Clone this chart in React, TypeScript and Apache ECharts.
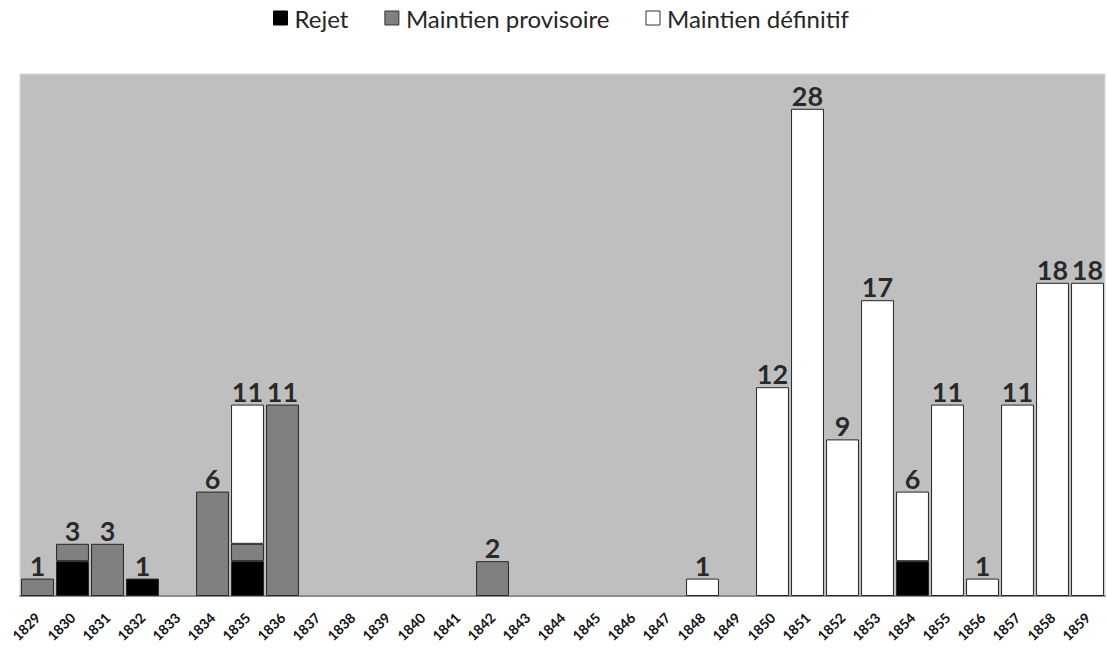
import React, { useEffect, useRef } from "react";
import * as echarts from "echarts";

const years = ["1829","1830","1831","1832","1833","1834","1835","1836","1837","1838","1839","1840","1841","1842","1843","1844","1845","1846","1847","1848","1849","1850","1851","1852","1853","1854","1855","1856","1857","1858","1859"];
const rejet =      [0,2,0,1,0,0,2,0,0,0,0,0,0,0,0,0,0,0,0,0,0,0,0,0,0,2,0,0,0,0,0];
const provisoire = [1,1,3,0,0,6,1,11,0,0,0,0,0,2,0,0,0,0,0,0,0,0,0,0,0,0,0,0,0,0,0];
const definitif =  [0,0,0,0,0,0,8,0,0,0,0,0,0,0,0,0,0,0,0,1,0,12,28,9,17,4,11,1,11,18,18];

const FONT = "Lato, 'Open Sans', sans-serif";

export default function App() {
  const ref = useRef<HTMLDivElement>(null);
  useEffect(() => {
    const chart = echarts.init(ref.current!, null, { renderer: "svg" });
    const totals = years.map((_, i) => rejet[i] + provisoire[i] + definitif[i]);
    const nz = (arr: number[]) => arr.map((v) => (v === 0 ? "-" : v));
    const barStyle = (color: string) => ({ color, borderColor: "#262626", borderWidth: 1 });
    chart.setOption({
      animation: false,
      textStyle: { fontFamily: FONT },
      legend: {
        top: 1,
        left: 268,
        itemWidth: 14,
        itemHeight: 14,
        itemGap: 36,
        textStyle: { fontSize: 24, color: "#262626", fontFamily: FONT, padding: [0, 0, 0, 2] },
        data: [
          { name: "Rejet", icon: "rect", itemStyle: { color: "#000", borderColor: "#000", borderWidth: 1 } },
          { name: "Maintien provisoire", icon: "rect", itemStyle: { color: "#808080", borderColor: "#333", borderWidth: 1 } },
          { name: "Maintien définitif", icon: "rect", itemStyle: { color: "#fff", borderColor: "#333", borderWidth: 1 } },
        ],
      },
      grid: {
        left: 20,
        right: 3,
        top: 74,
        bottom: 53,
        show: true,
        backgroundColor: "#bfbfbf",
        borderColor: "#d9d9d9",
        borderWidth: 1,
      },
      xAxis: {
        type: "category",
        data: years,
        axisLine: { lineStyle: { color: "#8c8c8c", width: 2 } },
        axisTick: { show: false },
        axisLabel: {
          rotate: 45,
          interval: 0,
          fontSize: 14,
          fontWeight: "bold",
          color: "#111",
          margin: 19,
          fontFamily: FONT,
        },
      },
      yAxis: {
        type: "value",
        min: 0,
        max: 30,
        show: false,
        splitLine: { show: false },
      },
      series: [
        { name: "Rejet", type: "bar", stack: "s", data: nz(rejet), barCategoryGap: "6%", itemStyle: barStyle("#000") },
        { name: "Maintien provisoire", type: "bar", stack: "s", data: nz(provisoire), itemStyle: barStyle("#808080") },
        { name: "Maintien définitif", type: "bar", stack: "s", data: nz(definitif), itemStyle: barStyle("#ffffff") },
        {
          name: "Total",
          type: "scatter",
          symbolSize: 0,
          data: nz(totals),
          silent: true,
          label: {
            show: true,
            position: "top",
            distance: 0,
            fontSize: 27,
            fontWeight: "bold",
            color: "#000",
            fontFamily: FONT,
          },
        },
      ],
    });
    return () => chart.dispose();
  }, []);
  return <div ref={ref} style={{ width: 1108, height: 649, position: "absolute", left: 0, top: 0 }} />;
}
